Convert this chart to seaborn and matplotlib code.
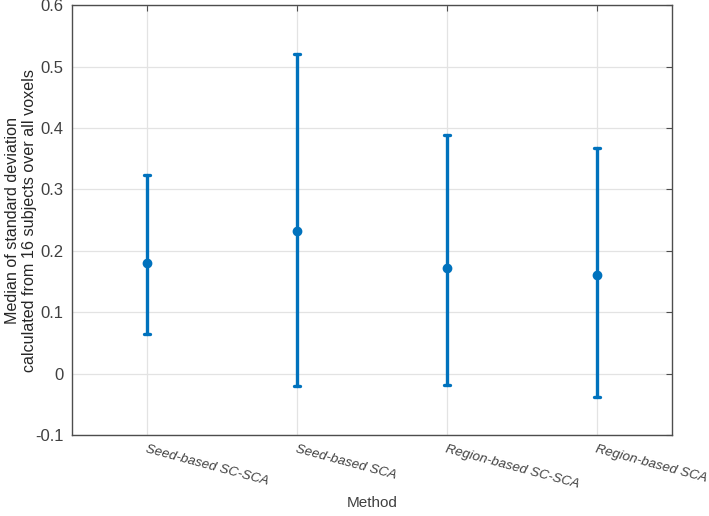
import numpy as np
import pandas as pd
import seaborn as sns
import matplotlib.pyplot as plt

methods = ["Seed-based SC-SCA", "Seed-based SCA", "Region-based SC-SCA", "Region-based SCA"]
medians = [0.180, 0.232, 0.172, 0.160]
lower = [0.065, -0.021, -0.018, -0.038]
upper = [0.324, 0.521, 0.388, 0.367]

# long table: low / median / high per method, errorbar = full range
rows = []
for m, lo, md, hi in zip(methods, lower, medians, upper):
    for v in (lo, md, hi):
        rows.append({"Method": m, "value": v})
df = pd.DataFrame(rows)

sns.set_style("white")
plt.rcParams['font.family'] = ['Liberation Sans', 'DejaVu Sans']

blue = "#0072BD"
fig = plt.figure(figsize=(7.09, 5.16), dpi=100)
ax = fig.add_axes([0.1016, 0.157, 0.8465, 0.833])

sns.pointplot(data=df, x="Method", y="value", estimator="median",
              errorbar=lambda v: (v.min(), v.max()), linestyle="none",
              color=blue, markersize=5, err_kws={"linewidth": 2.4},
              capsize=0.04, ax=ax)

ax.set_xlim(-0.5, 3.5)
ax.set_ylim(-0.1, 0.6)
ax.set_yticks(np.arange(-0.1, 0.61, 0.1))
ax.set_yticklabels(["-0.1", "0", "0.1", "0.2", "0.3", "0.4", "0.5", "0.6"])
ax.grid(True, color="#e3e3e3", linewidth=0.9)
ax.set_axisbelow(True)

for s in ax.spines.values():
    s.set_visible(True)
    s.set_color("#4d4d4d")
    s.set_linewidth(1.0)

ax.tick_params(direction="in", length=4, color="#4d4d4d", top=True, right=True,
               labelcolor="#404040", pad=6)
ax.tick_params(axis="y", labelsize=12)
ax.tick_params(axis="x", labelsize=9.6)
for lab in ax.get_xticklabels():
    lab.set_rotation(-15)
    lab.set_ha("left")
    lab.set_rotation_mode("anchor")
    lab.set_fontstyle("italic")

ax.set_xlabel("Method", fontsize=11, color="#404040", labelpad=4)
ax.set_ylabel("Median of standard deviation\ncalculated from 16 subjects over all voxels",
              fontsize=11.6, color="#262626", linespacing=1.1, va="center")
ax.yaxis.set_label_coords(-0.085, 0.5)

fig.savefig("out.png", dpi=100)
